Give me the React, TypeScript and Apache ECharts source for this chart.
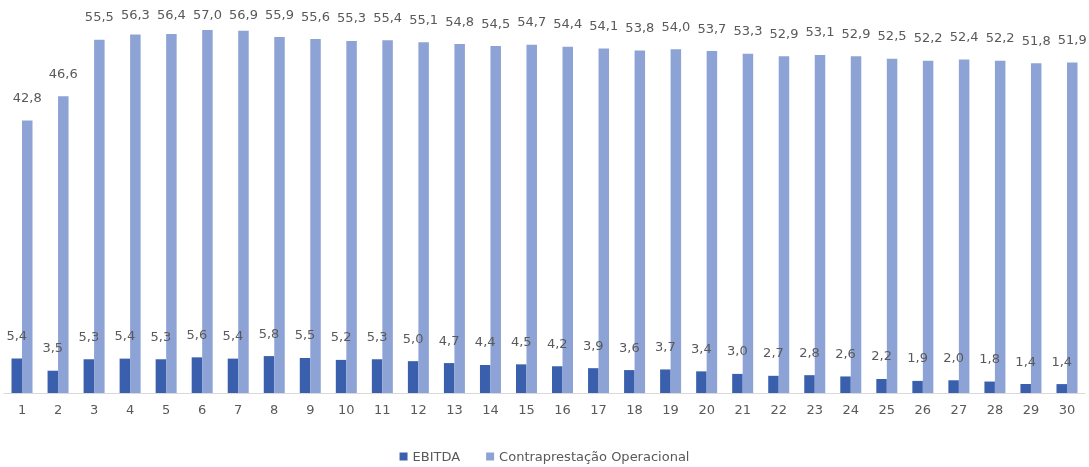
import React, { useEffect, useRef } from "react";
import * as echarts from "echarts";

const categories = Array.from({ length: 30 }, (_, i) => String(i + 1));
const ebitda = [5.4, 3.5, 5.3, 5.4, 5.3, 5.6, 5.4, 5.8, 5.5, 5.2, 5.3, 5.0, 4.7, 4.4, 4.5, 4.2, 3.9, 3.6, 3.7, 3.4, 3.0, 2.7, 2.8, 2.6, 2.2, 1.9, 2.0, 1.8, 1.4, 1.4];
const contraprestacao = [42.8, 46.6, 55.5, 56.3, 56.4, 57.0, 56.9, 55.9, 55.6, 55.3, 55.4, 55.1, 54.8, 54.5, 54.7, 54.4, 54.1, 53.8, 54.0, 53.7, 53.3, 52.9, 53.1, 52.9, 52.5, 52.2, 52.4, 52.2, 51.8, 51.9];

const fmt = (p: any) => Number(p.value).toFixed(1).replace(".", ",");
const font = "'DejaVu Sans', sans-serif";

const GRID_TOP = 11;
const GRID_H = 382;
const Y_MAX = 60;
const LABEL_DIST = 16.5;

// Keep labels inside the chart top, as the spreadsheet does
const withLabel = (vals: number[]) =>
  vals.map((v) => {
    const barTop = GRID_TOP + GRID_H - (v / Y_MAX) * GRID_H;
    const d = Math.min(LABEL_DIST, barTop - 20.5);
    return { value: v, label: { distance: d } };
  });

export default function App() {
  const ref = useRef<HTMLDivElement>(null);
  useEffect(() => {
    const chart = echarts.init(ref.current!, null, { renderer: "svg" });
    chart.setOption({
      animation: false,
      textStyle: { fontFamily: font },
      grid: { left: 4, right: 4, top: GRID_TOP, height: GRID_H, containLabel: false },
      legend: {
        top: 450,
        padding: 0,
        left: "center",
        itemWidth: 8,
        itemHeight: 8,
        itemGap: 26,
        icon: "rect",
        textStyle: { color: "#595959", fontSize: 13, fontFamily: font },
        data: ["EBITDA", "Contraprestação Operacional"],
      },
      xAxis: {
        type: "category",
        data: categories,
        axisLine: { lineStyle: { color: "#d9d9d9" } },
        axisTick: { show: false },
        axisLabel: { color: "#595959", fontSize: 13, margin: 10, fontFamily: font },
      },
      yAxis: {
        type: "value",
        min: 0,
        max: Y_MAX,
        show: false,
        splitLine: { show: false },
      },
      series: [
        {
          name: "EBITDA",
          type: "bar",
          data: withLabel(ebitda),
          barWidth: 10.5,
          barGap: "0%",
          itemStyle: { color: "#3A60AD" },
          label: { show: true, position: "top", distance: LABEL_DIST, color: "#595959", fontSize: 13, formatter: fmt, fontFamily: font },
        },
        {
          name: "Contraprestação Operacional",
          type: "bar",
          data: withLabel(contraprestacao),
          barWidth: 10.5,
          barGap: "0%",
          itemStyle: { color: "#8EA3D5" },
          label: { show: true, position: "top", distance: LABEL_DIST, color: "#595959", fontSize: 13, formatter: fmt, fontFamily: font },
        },
      ],
    });
    return () => chart.dispose();
  }, []);
  return <div ref={ref} style={{ position: "fixed", left: 0, top: 0, width: 1089, height: 467 }} />;
}
